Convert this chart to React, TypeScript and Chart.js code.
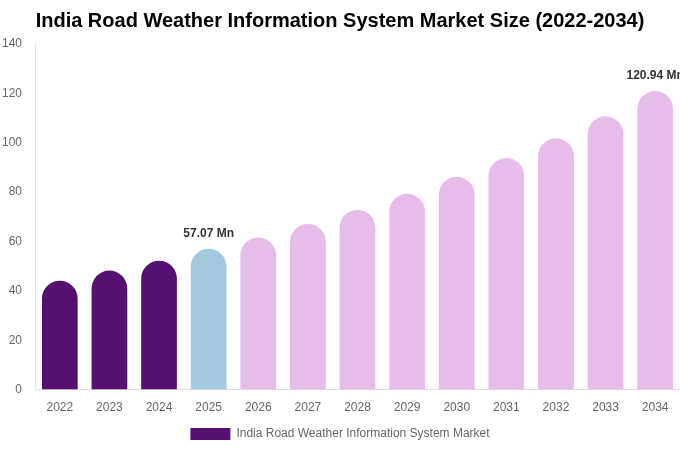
import { useEffect, useRef } from "react";
import Chart from "chart.js/auto";

// ─── Data ─────────────────────────────────────────────────────────────────────
const years = ["2022", "2023", "2024", "2025", "2026", "2027", "2028", "2029", "2030", "2031", "2032", "2033", "2034"];
const marketSize = [44.1, 48.2, 52.2, 57.07, 61.6, 67.1, 72.8, 79.3, 86.2, 93.8, 101.8, 110.7, 120.94];
const labelledYears = ["2025", "2034"];
const yTicks = [0, 20, 40, 60, 80, 100, 120, 140];

const FONT = "'Liberation Sans', Arial, Helvetica, sans-serif";
const HISTORIC = "#541171";
const CURRENT = "#a3c9de";
const FORECAST = "#e6bce8";

const barColor = (y: string) => (y < "2025" ? HISTORIC : y === "2025" ? CURRENT : FORECAST);

// draws "xx.xx Mn" above selected bars
const valueLabels = {
  id: "valueLabels",
  afterDatasetsDraw(chart: any) {
    const { ctx } = chart;
    const meta = chart.getDatasetMeta(0);
    ctx.save();
    ctx.font = `bold 12px ${FONT}`;
    ctx.fillStyle = "#333333";
    ctx.textAlign = "center";
    ctx.textBaseline = "bottom";
    meta.data.forEach((bar: any, i: number) => {
      if (!labelledYears.includes(years[i])) return;
      ctx.fillText(`${marketSize[i].toFixed(2)} Mn`, bar.x, bar.y - 9);
    });
    ctx.restore();
  },
};

// ─── Component ────────────────────────────────────────────────────────────────
export default function App() {
  const canvasRef = useRef<HTMLCanvasElement | null>(null);
  const chartRef = useRef<any>(null);

  useEffect(() => {
    if (!canvasRef.current) return;
    if (chartRef.current) chartRef.current.destroy();

    chartRef.current = new Chart(canvasRef.current, {
      type: "bar",
      data: {
        labels: years,
        datasets: [
          {
            label: "India Road Weather Information System Market",
            data: marketSize,
            backgroundColor: years.map(barColor),
            borderRadius: { topLeft: 18, topRight: 18, bottomLeft: 0, bottomRight: 0 },
            borderSkipped: false,
            categoryPercentage: 0.9,
            barPercentage: 0.8,
          },
        ],
      },
      plugins: [valueLabels],
      options: {
        responsive: true,
        maintainAspectRatio: false,
        animation: false,
        layout: { padding: { left: 0, right: 0, top: 0, bottom: 0 } },
        plugins: {
          title: {
            display: true,
            text: "India Road Weather Information System Market Size (2022-2034)",
            color: "#000000",
            font: { family: FONT, size: 20, weight: "bold" },
            padding: { top: 9, bottom: 11 },
          },
          legend: {
            position: "bottom",
            labels: {
              color: "#666666",
              font: { family: FONT, size: 12 },
              boxWidth: 40,
              boxHeight: 12,
              padding: 10,
              generateLabels: () => [
                {
                  text: "India Road Weather Information System Market",
                  fillStyle: HISTORIC,
                  strokeStyle: HISTORIC,
                  lineWidth: 0,
                  fontColor: "#666666",
                  datasetIndex: 0,
                },
              ],
            },
          },
          tooltip: { enabled: false },
        },
        scales: {
          x: {
            grid: { display: false },
            border: { display: true, color: "#dddddd" },
            ticks: { color: "#666666", font: { family: FONT, size: 12 }, padding: 3 },
          },
          y: {
            min: 0,
            max: yTicks[yTicks.length - 1],
            grid: { display: false },
            border: { display: true, color: "#e5e5e5" },
            afterBuildTicks: (axis: any) => {
              axis.ticks = yTicks.map((v) => ({ value: v }));
            },
            afterFit: (axis: any) => {
              axis.width = 35;
            },
            ticks: { color: "#666666", font: { family: FONT, size: 12 }, padding: 5 },
          },
        },
      },
    });

    return () => {
      if (chartRef.current) chartRef.current.destroy();
    };
  }, []);

  return (
    <>
      <style>{`
        * { box-sizing: border-box; }
        body { margin: 0; background: #ffffff; font-family: ${FONT}; }
      `}</style>
      <div style={{ position: "relative", width: 680, height: 450 }}>
        <canvas ref={canvasRef} />
      </div>
    </>
  );
}
